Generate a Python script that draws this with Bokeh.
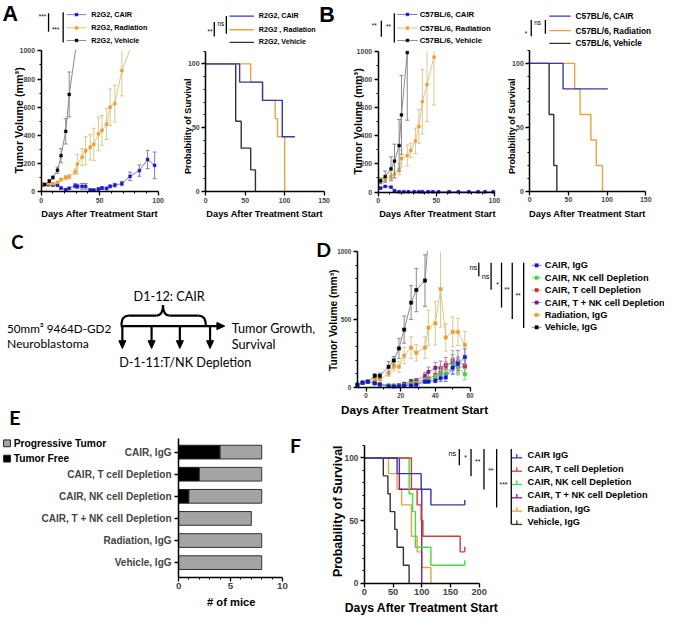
import numpy as np
from bokeh.plotting import figure
from bokeh.models import Range1d, LinearAxis, FixedTicker
from bokeh.core.properties import value
from bokeh.embed import file_html
from bokeh.resources import INLINE

W, H = 664, 618
S = 618 / 634.0


def X(v):
    return v * S


def Y(v):
    return v * S


# ----------------------------- DATA -----------------------------
# Panel A : R2G2 tumour volume (mm3)
a_cair_day = [2, 6, 10, 14, 17, 21, 24, 29, 31, 35, 38, 42, 45, 49, 52, 56, 59, 63, 69, 76, 84, 91, 97]
a_cair_vol = [48, 48, 46, 46, 25, 14, 23, 41, 37, 37, 37, 11, 11, 18, 25, 22, 37, 45, 57, 108, 149, 228, 186]
a_cair_err = [5, 5, 5, 8, 8, 5, 8, 15, 15, 20, 20, 5, 5, 8, 10, 10, 10, 12, 15, 30, 40, 65, 95]
a_rad_day = [2, 6, 10, 14, 17, 21, 24, 29, 31, 35, 38, 42, 45, 49, 52, 56, 59, 63, 69, 77]
a_rad_vol = [55, 55, 55, 65, 85, 100, 105, 140, 195, 245, 290, 315, 335, 410, 435, 480, 600, 625, 860, 1030]
a_rad_err = [5, 5, 5, 8, 10, 15, 15, 20, 70, 60, 100, 90, 115, 120, 105, 110, 130, 130, 180, 0]
a_veh_day = [3, 7, 10, 14, 17, 21, 24, 31]
a_veh_vol = [50, 75, 100, 152, 255, 428, 690, 1100]
a_veh_err = [5, 8, 10, 22, 50, 90, 160, 0]

# Panel A : survival (%)
as_cair_t = [0, 43, 72, 97]
as_cair_s = [100, 85.7, 71.4, 42.9]
as_cair_end = 113
as_rad_t = [0, 57, 72, 88, 91, 100]
as_rad_s = [100, 85.7, 71.4, 57.1, 42.9, 0]
as_veh_t = [0, 38, 45, 57, 63]
as_veh_s = [100, 55, 34, 17, 0]

# Panel B : C57BL/6 tumour volume
b_cair_day = [2, 6, 11, 14, 18, 22, 26, 31, 35, 38, 43, 47, 52, 61, 69, 78, 86, 92, 99]
b_cair_vol = [28, 40, 35, 10, 2, 2, 2, 2, 2, 2, 2, 2, 2, 2, 2, 2, 2, 2, 2]
b_cair_err = [6, 5, 5, 4, 1, 1, 1, 1, 1, 1, 1, 1, 1, 1, 1, 1, 1, 1, 1]
b_rad_day = [2, 6, 11, 14, 18, 20, 25, 28, 32, 35, 38, 42, 48]
b_rad_vol = [69, 85, 108, 127, 162, 238, 259, 296, 363, 466, 642, 762, 958]
b_rad_err = [10, 15, 20, 25, 40, 60, 75, 50, 90, 120, 230, 260, 340]
b_veh_day = [2, 6, 11, 14, 18, 20, 25]
b_veh_vol = [80, 110, 165, 220, 330, 548, 990]
b_veh_err = [20, 40, 85, 120, 185, 280, 480]

# Panel B : survival (%)
bs_cair_t = [0, 43]
bs_cair_s = [100, 80]
bs_cair_end = 101
bs_rad_t = [0, 58, 65, 79, 86, 94]
bs_rad_s = [100, 80, 60, 40, 20, 0]
bs_veh_t = [0, 25, 31, 35]
bs_veh_s = [100, 60, 20, 0]

# Panel D : 9464D-GD2 tumour volume
d_day = [-5, -2, 1, 5, 8, 13, 16, 19, 22, 26, 29, 34, 36, 40, 43, 46, 50, 53, 57]
d_cair_vol = [18, 33, 41, 29, 19, 7, 5, 7, 12, 12, 17, 41, 41, 48, 67, 72, 144, 173, 223]
d_cair_err = [3, 5, 5, 5, 5, 3, 3, 4, 5, 5, 6, 10, 10, 15, 25, 30, 50, 50, 60]
d_nk_vol = [18, 33, 40, 30, 22, 12, 10, 10, 15, 25, 30, 45, 50, 70, 95, 100, 160, 150, 95]
d_nk_err = [3, 5, 5, 5, 5, 4, 4, 5, 6, 8, 10, 15, 15, 20, 30, 35, 60, 50, 40]
d_t_vol = [18, 33, 40, 30, 22, 10, 8, 10, 18, 30, 40, 55, 60, 90, 110, 140, 200, 150, 150]
d_t_err = [3, 5, 5, 5, 5, 4, 4, 5, 6, 10, 12, 15, 20, 30, 40, 50, 70, 60, 50]
d_tnk_vol = [18, 33, 40, 30, 22, 12, 12, 15, 25, 45, 50, 84, 113, 143, 143, 165, 180, 190, 160]
d_tnk_err = [3, 5, 5, 5, 5, 4, 5, 6, 8, 12, 15, 25, 35, 40, 50, 55, 60, 80, 60]
d_rad_vol = [18, 33, 40, 55, 58, 100, 151, 151, 233, 292, 254, 292, 439, 472, 724, 367, 408, 408, 312]
d_rad_err = [3, 5, 5, 10, 10, 20, 30, 40, 60, 80, 60, 80, 130, 160, 280, 100, 110, 100, 100]
d_veh_day = [-5, -2, 1, 5, 8, 13, 16, 19, 22, 26, 29, 34, 36]
d_veh_vol = [18, 33, 40, 84, 84, 150, 197, 286, 425, 624, 717, 787, 1100]
d_veh_err = [3, 5, 5, 15, 20, 40, 30, 75, 100, 125, 160, 190, 0]
d_labels = ["CAIR, IgG", "CAIR, NK cell Depletion", "CAIR, T cell Depletion",
            "CAIR, T + NK cell Depletion", "Radiation, IgG", "Vehicle, IgG"]

# Panel E : outcome counts
e_groups = ["CAIR, IgG", "CAIR, T cell Depletion", "CAIR, NK cell Depletion",
            "CAIR, T + NK cell Depletion", "Radiation, IgG", "Vehicle, IgG"]
e_free = [4, 2, 1, 0, 0, 0]
e_prog = [4, 6, 7, 7, 8, 8]

# Panel F : survival (%)
f_labels = ["CAIR IgG", "CAIR, T cell Depletion", "CAIR, NK cell Depletion",
            "CAIR, T + NK cell Depletion", "Radiation, IgG", "Vehicle, IgG"]
f_cair_t = [0, 57, 99, 116]
f_cair_s = [100, 87.5, 75, 62.5]
f_t_t = [0, 82, 92, 99, 102, 167]
f_t_s = [100, 75, 62.5, 50, 37.5, 25]
f_nk_t = [0, 78, 84, 89, 116]
f_nk_s = [100, 71.4, 57.1, 28.6, 14.3]
f_tnk_t = [0, 61, 100]
f_tnk_s = [100, 75, 0]
f_rad_t = [0, 42, 57, 65, 82, 92, 100, 116]
f_rad_s = [100, 87.5, 75, 62.5, 37.5, 25, 12.5, 0]
f_veh_t = [0, 33, 41, 45, 53, 57, 68, 78]
f_veh_s = [100, 85.7, 71.4, 57.1, 42.9, 28.6, 14.3, 0]
f_end = 175

# ----------------------------- COLOURS -----------------------------
BLUE, BLUE_L = "#1515d8", "#7b7bcf"
ORANGE, TAN = "#f29b2a", "#dcc78e"
BLACK, GREY = "#000000", "#8a8a8a"
GREEN, GREEN_L = "#2fe02f", "#8fd08f"
RED, RED_L = "#d8262b", "#c99a9a"
PURPLE, PURPLE_L = "#7a1e7e", "#a58aa8"
S_BLUE, S_ORANGE, S_BLACK = "#3636b8", "#e9a33c", "#333333"
F_RED, F_GREEN, F_PURPLE = "#d23a3a", "#3fe03f", "#7d2380"

FONT = "Liberation Sans"
CFONT = "Lato"

# ----------------------------- FIGURE -----------------------------
p = figure(width=W, height=H, x_range=Range1d(0, W), y_range=Range1d(H, 0),
           x_axis_location=None, y_axis_location=None, toolbar_location=None,
           output_backend="svg", min_border=0)
p.outline_line_color = None
p.background_fill_color = "white"
p.border_fill_color = "white"
p.xgrid.visible = False
p.ygrid.visible = False

xr, yr = {}, {}


def setup(name, xa, xb, ya, yb):
    (dx0, px0), (dx1, px1) = xa, xb
    kx = (X(px1) - X(px0)) / (dx1 - dx0)
    xr[name] = Range1d(start=dx0 - X(px0) / kx, end=dx0 + (W - X(px0)) / kx)
    (dy0, py0), (dy1, py1) = ya, yb
    ky = (Y(py1) - Y(py0)) / (dy1 - dy0)
    yr[name] = Range1d(start=dy0 + (H - Y(py0)) / ky, end=dy0 - Y(py0) / ky)


setup("A", (0, 41.7), (100, 161.7), (0, 196), (1000, 51.7))
setup("As", (0, 210.5), (150, 332), (0, 196), (100, 65))
setup("B", (0, 387.5), (100, 506.7), (0, 196.5), (1000, 52))
setup("Bs", (0, 543), (150, 662), (0, 195.5), (100, 64.5))
setup("D", (0, 375), (60, 481.7), (0, 396.7), (1000, 257.7))
setup("E", (0, 182.7), (10, 289.3), (0, 463.3), (5, 576.7))
setup("F", (0, 373.3), (200, 491), (0, 597.7), (100, 469.3))
p.extra_x_ranges = xr
p.extra_y_ranges = yr


def fpx(v):
    return f"{v * S:.2f}px"


def T(x, y, txt, size, color="black", bold=True, align="left", baseline="middle",
      angle=0.0, font=FONT):
    p.text(x=[X(x)], y=[Y(y)], text=[txt], text_font=value(font),
           text_font_size=fpx(size), text_font_style="bold" if bold else "normal",
           text_align=align, text_baseline=baseline, text_color=color, angle=angle)


def seg(x0, y0, x1, y1, color="black", width=1.3):
    p.segment(x0=[X(x0)], y0=[Y(y0)], x1=[X(x1)], y1=[Y(y1)], line_color=color,
              line_width=width)


def axes(name, xb, yb, xt, yt, xm, ym, xfs, yfs, xloc, yloc, overrides=None,
         ystand=2, xstand=2):
    xa = LinearAxis(x_range_name=name, y_range_name=name, bounds=xb, fixed_location=xloc,
                    ticker=FixedTicker(ticks=xt, minor_ticks=xm))
    ya = LinearAxis(x_range_name=name, y_range_name=name, bounds=yb, fixed_location=yloc,
                    ticker=FixedTicker(ticks=yt, minor_ticks=ym))
    if overrides:
        ya.major_label_overrides = overrides
    for ax, fs, st in ((xa, xfs, xstand), (ya, yfs, ystand)):
        ax.axis_line_width = 1.5
        ax.axis_line_color = "black"
        ax.major_tick_line_width = 1.3
        ax.minor_tick_line_width = 1
        ax.major_tick_in = 0
        ax.major_tick_out = 4
        ax.minor_tick_in = 0
        ax.minor_tick_out = 2
        ax.major_label_text_font = FONT
        ax.major_label_text_font_style = "bold"
        ax.major_label_text_font_size = fpx(fs)
        ax.major_label_standoff = st
    p.add_layout(xa, "below")
    p.add_layout(ya, "left")


def tumor(name, day, vol, err, mcol, lcol, ecol, ymax, msize=2.8, cap=4):
    d = np.array(day, float)
    v = np.array(vol, float)
    e = np.array(err, float)
    hi = v + e
    lo = np.maximum(v - e, 0)
    vis = v <= ymax
    kw = dict(x_range_name=name, y_range_name=name)
    p.segment(x0=d[vis], y0=lo[vis], x1=d[vis], y1=np.minimum(hi, ymax)[vis],
              line_color=ecol, line_width=1, **kw)
    top = vis & (hi <= ymax) & (e > 0)
    p.scatter(d[top], hi[top], marker="dash", size=cap, line_color=ecol, line_width=1, **kw)
    bot = vis & (e > 0)
    p.scatter(d[bot], lo[bot], marker="dash", size=cap, line_color=ecol, line_width=1, **kw)
    p.line(d, v, line_color=lcol, line_width=1, **kw)
    p.scatter(d[vis], v[vis], marker="square", size=msize, fill_color=mcol, line_color=mcol,
              line_width=0.5, **kw)


def km(name, t, s, end, color, width=1.4, censor=False):
    xs, ys = [t[0]], [s[0]]
    for i in range(1, len(t)):
        xs += [t[i], t[i]]
        ys += [s[i - 1], s[i]]
    if end is not None and end > t[-1]:
        xs.append(end)
        ys.append(s[-1])
    p.line(xs, ys, line_color=color, line_width=width, x_range_name=name, y_range_name=name)
    if censor:
        p.segment(x0=[xs[-1]], y0=[ys[-1]], x1=[xs[-1]], y1=[ys[-1] + 4], line_color=color,
                  line_width=width, x_range_name=name, y_range_name=name)


# ----------------------------- PANEL A -----------------------------
tumor("A", a_cair_day, a_cair_vol, a_cair_err, BLUE, BLUE_L, BLUE_L, 1000)
tumor("A", a_rad_day, a_rad_vol, a_rad_err, ORANGE, TAN, TAN, 1000)
tumor("A", a_veh_day, a_veh_vol, a_veh_err, BLACK, GREY, GREY, 1000)
km("As", as_veh_t, as_veh_s, None, S_BLACK)
km("As", as_rad_t, as_rad_s, None, S_ORANGE)
km("As", as_cair_t, as_cair_s, as_cair_end, S_BLUE)

# ----------------------------- PANEL B -----------------------------
tumor("B", b_cair_day, b_cair_vol, b_cair_err, BLUE, BLUE_L, BLUE_L, 1000)
tumor("B", b_rad_day, b_rad_vol, b_rad_err, ORANGE, TAN, TAN, 1000)
tumor("B", b_veh_day, b_veh_vol, b_veh_err, BLACK, GREY, GREY, 1000)
km("Bs", bs_veh_t, bs_veh_s, None, S_BLACK)
km("Bs", bs_rad_t, bs_rad_s, None, S_ORANGE)
km("Bs", bs_cair_t, bs_cair_s, bs_cair_end, S_BLUE)

# ----------------------------- PANEL D -----------------------------
tumor("D", d_day, d_rad_vol, d_rad_err, ORANGE, TAN, TAN, 1000, msize=3.3)
tumor("D", d_veh_day, d_veh_vol, d_veh_err, BLACK, GREY, GREY, 1000, msize=3.3)
tumor("D", d_day, d_tnk_vol, d_tnk_err, PURPLE, PURPLE_L, PURPLE_L, 1000, msize=3.3)
tumor("D", d_day, d_t_vol, d_t_err, RED, RED_L, RED_L, 1000, msize=3.3)
tumor("D", d_day, d_nk_vol, d_nk_err, GREEN, GREEN_L, GREEN_L, 1000, msize=3.3)
tumor("D", d_day, d_cair_vol, d_cair_err, BLUE, BLUE_L, BLUE_L, 1000, msize=3.3)

# ----------------------------- PANEL E -----------------------------
ey = np.arange(len(e_groups))
e_tot = np.array(e_free) + np.array(e_prog)
p.hbar(y=ey, left=0, right=e_free, height=0.62, fill_color="black", line_color="#222222",
       line_width=1, x_range_name="E", y_range_name="E")
p.hbar(y=ey, left=e_free, right=e_tot, height=0.62, fill_color="#a4a4a4",
       line_color="#333333", line_width=1, x_range_name="E", y_range_name="E")

# ----------------------------- PANEL F -----------------------------
km("F", f_veh_t, f_veh_s, None, S_BLACK)
km("F", f_rad_t, f_rad_s, None, S_ORANGE)
km("F", f_tnk_t, f_tnk_s, None, F_PURPLE)
km("F", f_nk_t, f_nk_s, f_end, F_GREEN, censor=True)
km("F", f_t_t, f_t_s, f_end, F_RED, censor=True)
km("F", f_cair_t, f_cair_s, f_end, S_BLUE, censor=True)

# white masks above the 1000 mm3 axis limit
p.quad(left=[X(43), X(368)], right=[X(180), X(486)], top=[0, Y(226)],
       bottom=[Y(51.7) - 0.8, Y(257.7) - 0.8], fill_color="white", line_color=None)

# ----------------------------- AXES -----------------------------
tick10 = list(range(10, 100, 10))
axes("A", (0, 100), (0, 1000), [0, 50, 100], [0, 200, 400, 600, 800, 1000],
     [v for v in tick10 if v != 50], [100, 300, 500, 700, 900], 7.2, 7.2, 0, 0)
axes("As", (0, 150), (0, 110), [0, 50, 100, 150], [0, 50, 100],
     [], list(range(10, 111, 10)), 7.2, 7.2, 0, 0)
axes("B", (0, 100), (0, 1000), [0, 50, 100], [0, 200, 400, 600, 800, 1000],
     [v for v in tick10 if v != 50], [100, 300, 500, 700, 900], 7.2, 7.2, 0, 0)
axes("Bs", (0, 150), (0, 110), [0, 50, 100, 150], [0, 50, 100],
     [], list(range(10, 111, 10)), 7.2, 7.2, 0, 0)
axes("D", (-5, 60), (0, 1000), [0, 20, 40, 60], [0, 500, 1000],
     [10, 30, 50], list(range(100, 1000, 100)), 6.5, 6.5, 0, -5)
axes("E", (0, 10), (-0.62, 5.66), [0, 5, 10], list(range(6)),
     [1, 2, 3, 4, 6, 7, 8, 9], [], 10, 10.3, 5.66, 0,
     overrides={i: g for i, g in enumerate(e_groups)}, ystand=3)
axes("F", (0, 200), (0, 110), [0, 50, 100, 150, 200], [0, 50, 100],
     [], list(range(10, 111, 10)), 9.5, 8.5, 0, 0)

# ----------------------------- TEXT: PANEL LETTERS -----------------------------
T(2, 14, "A", 22)
T(327, 15, "B", 22)
T(11, 248, "C", 19, font=CFONT)
T(324, 255, "D", 20, font=CFONT)
T(9, 428, "E", 20, font=CFONT)
T(297, 457, "F", 20, font=CFONT)

# axis titles
T(19, 123, "Tumor Volume (mm³)", 11, align="center", angle=np.pi / 2)
T(101.7, 219, "Days After Treatment Start", 9.5, align="center")
T(192, 129, "Probability of Survival", 9.3, align="center", angle=np.pi / 2)
T(271, 219, "Days After Treatment Start", 9.5, align="center")
T(367, 124, "Tumor Volume (mm³)", 11, align="center", angle=np.pi / 2)
T(448.3, 219, "Days After Treatment Start", 9.5, align="center")
T(525, 129, "Probability of Survival", 9.3, align="center", angle=np.pi / 2)
T(602, 219, "Days After Treatment Start", 9.5, align="center")
T(341.5, 328, "Tumor Volume (mm³)", 10.5, align="center", angle=np.pi / 2)
T(425, 420, "Days After Treatment Start", 12, align="center")
T(236.7, 617, "# of mice", 11.5, align="center")
T(346.5, 524, "Probability of Survival", 12.8, align="center", angle=np.pi / 2)
T(432, 623.5, "Days After Treatment Start", 12.5, align="center")


# ----------------------------- LEGENDS -----------------------------
def leg_tumor(x0, x1, y, mcol, lcol, label, tx, fs, msize=2.8):
    seg(x0, y, x1, y, lcol, 1)
    p.scatter([X((x0 + x1) / 2)], [Y(y)], marker="square", size=msize, fill_color=mcol,
              line_color=mcol, line_width=0.5)
    T(tx, y, label, fs)


a_leg = ["R2G2, CAIR", "R2G2, Radiation", "R2G2, Vehicle"]
b_leg = ["C57BL/6, CAIR", "C57BL/6, Radiation", "C57BL/6, Vehicle"]
for lab, yy, mc, lc in zip(a_leg, [14.5, 28, 41], [BLUE, ORANGE, BLACK], [BLUE_L, TAN, GREY]):
    leg_tumor(68, 88, yy, mc, lc, lab, 93, 7.5)
for lab, yy, mc, lc in zip(b_leg, [14.3, 28.3, 41], [BLUE, ORANGE, BLACK], [BLUE_L, TAN, GREY]):
    leg_tumor(407, 428, yy, mc, lc, lab, 430, 8)

as_leg = ["R2G2, CAIR", "R2G2 , Radiation", "R2G2, Vehicle"]
for lab, yy, c in zip(as_leg, [16, 30, 43], [S_BLUE, S_ORANGE, S_BLACK]):
    seg(235, yy, 260, yy, c, 1.3)
    T(265, yy, lab, 7.3)
for lab, yy, c in zip(b_leg, [16, 31, 44], [S_BLUE, S_ORANGE, S_BLACK]):
    seg(563, yy, 585, yy, c, 1.3)
    T(590, yy, lab, 8.5)

# significance brackets, row 1
seg(49.3, 13, 49.3, 32)
seg(64.3, 12, 64.3, 43)
T(43, 13, "***", 6.5, bold=False, align="center", baseline="top")
T(56.5, 26, "***", 6.5, bold=False, align="center", baseline="top")
seg(219.3, 22, 219.3, 37)
seg(231.7, 16, 231.7, 34)
T(215, 28, "**", 6.5, bold=False, align="center", baseline="top")
T(226, 24, "ns", 6.5, bold=False, align="center")
seg(390.7, 20.7, 390.7, 37.3)
seg(404, 13, 404, 43)
T(383.3, 22, "**", 6.5, bold=False, align="center", baseline="top")
T(398, 23, "**", 6.5, bold=False, align="center", baseline="top")
seg(544.5, 20, 544.5, 36.7)
seg(559, 20, 559, 34)
T(539, 30, "*", 6.5, bold=False, align="center", baseline="top")
T(551, 23, "ns", 6.5, bold=False, align="center")

# panel D legend
d_mc = [BLUE, GREEN, RED, PURPLE, ORANGE, BLACK]
d_lc = [BLUE_L, GREEN_L, RED_L, PURPLE_L, TAN, GREY]
for i, (lab, mc, lc) in enumerate(zip(d_labels, d_mc, d_lc)):
    yy = 271.7 + 12.72 * i
    leg_tumor(545, 555, yy, mc, lc, lab, 558.3, 9.5, msize=3.3)
for xx, y1 in zip([490.7, 503.3, 514, 525, 536.7], [283, 296.7, 315, 326.7, 336]):
    seg(xx, 269, xx, y1)
T(489, 274, "ns", 7.5, bold=False, align="right")
T(501.5, 283, "ns", 7.5, bold=False, align="right")
T(510, 288, "*", 7, bold=False, align="center", baseline="top")
T(519.5, 293, "**", 7, bold=False, align="center", baseline="top")
T(531, 299, "**", 7, bold=False, align="center", baseline="top")

# panel E legend
p.scatter([X(6.7), X(6.7)], [Y(454.3), Y(470)], marker="square", size=7 * S,
          fill_color=["#a4a4a4", "black"], line_color="#222222", line_width=1)
T(13.5, 454.3, "Progressive Tumor", 10.5)
T(13.5, 470, "Tumor Free", 10.5)

# panel F legend
f_col = [S_BLUE, F_RED, F_GREEN, F_PURPLE, S_ORANGE, S_BLACK]
for i, (lab, c) in enumerate(zip(f_labels, f_col)):
    yy = 466.7 + 13.66 * i
    seg(524.5, yy + 2.5, 535, yy + 2.5, c, 1.3)
    seg(529.7, yy + 2.5, 529.7, yy - 1.5, c, 1.3)
    T(540.7, yy, lab, 9.5)
for xx, y1 in zip([470.7, 482.7, 496, 509, 524], [476.7, 488, 501.7, 520, 537.5]):
    seg(xx, 460, xx, y1)
T(467.5, 465, "ns", 7.5, bold=False, align="right")
T(477, 465, "*", 7, bold=False, align="center", baseline="top")
T(489.5, 469, "**", 7, bold=False, align="center", baseline="top")
T(503, 479, "**", 7, bold=False, align="center", baseline="top")
T(516, 493, "***", 7, bold=False, align="center", baseline="top")

# ----------------------------- PANEL C : schematic -----------------------------
T(6.7, 336, "50mm³ 9464D-GD2", 12, bold=False, font=CFONT)
T(6.7, 352, "Neuroblastoma", 12.5, bold=False, font=CFONT)
T(173, 302.7, "D1-12: CAIR", 13, bold=False, align="center", font=CFONT)
T(237.3, 336, "Tumor Growth,", 13, bold=False, font=CFONT)
T(237.3, 352, "Survival", 13, bold=False, font=CFONT)
T(121.7, 370.5, "D-1-11:T/NK Depletion", 13, bold=False, font=CFONT)
seg(123.3, 334, 224, 334, "black", 2.2)
p.patch([X(222), X(222), X(230)], [Y(330.3), Y(337.7), Y(334)], fill_color="black",
        line_color="black")
for xx in [125, 155, 184, 215]:
    seg(xx, 334, xx, 350, "black", 2.2)
    p.patch([X(xx - 3.6), X(xx + 3.6), X(xx)], [Y(349), Y(349), Y(357)], fill_color="black",
            line_color="black")
bx = [(124, 333, 124, 323.3, 131.7, 323.3), (160, 323.3, 166.7, 323.3, 166.7, 312.5),
      (166.7, 312.5, 166.7, 323.3, 173.4, 323.3), (203, 323.3, 210.7, 323.3, 210.7, 333)]
for x0, y0, cx, cy, x1, y1 in bx:
    p.quadratic(x0=[X(x0)], y0=[Y(y0)], cx=[X(cx)], cy=[Y(cy)], x1=[X(x1)], y1=[Y(y1)],
                line_color="black", line_width=2.2)
seg(131.7, 323.3, 160, 323.3, "black", 2.2)
seg(173.4, 323.3, 203, 323.3, "black", 2.2)

open("out.html", "w").write(file_html(p, INLINE))
